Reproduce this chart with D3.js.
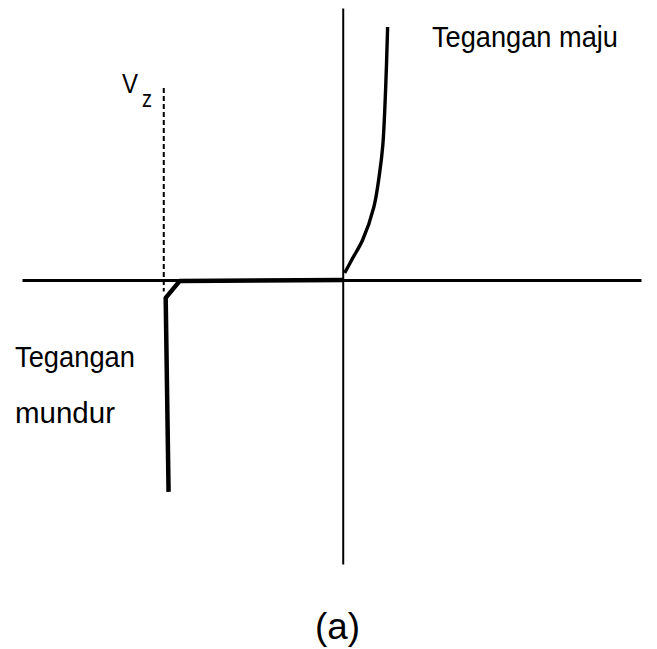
<!DOCTYPE html>
<html>
<head>
<meta charset="utf-8">
<script src="https://cdn.jsdelivr.net/npm/d3@7"></script>
<style>
  html, body { margin: 0; padding: 0; background: #fff; }
  svg { display: block; }
  text { font-family: "Liberation Sans Narrow", "Arial Narrow", "Liberation Sans", sans-serif; fill: #000; }
</style>
</head>
<body>
<svg id="chart" width="657" height="649"></svg>
<script>
// Zener diode characteristic: voltage (V) vs current (arbitrary units)
const forwardV = [0.06, 0.31, 0.62, 0.97, 1.15, 1.25, 1.34, 1.40];
const forwardI = [0.25, 0.77, 1.41, 2.57, 3.77, 4.75, 6.80, 8.91];

const reverseV = [0, -5.08, -5.52, -5.43];
const reverseI = [0, -0.03, -0.63, -7.46];

const zenerV = -5.58;
const zenerGuideI = [6.76, -0.4];

const labels = {
  forward: "Tegangan maju",
  reverse: ["Tegangan", "mundur"],
  zener: "V",
  zenerSub: "z",
  caption: "(a)"
};

const svg = d3.select("#chart");

const x = d3.scaleLinear().domain([-10, 9.3]).range([22, 641]);
const y = d3.scaleLinear().domain([-10, 9.58]).range([564, 8]);

// Axes through the origin, drawn as plain lines (no ticks)
svg.append("g")
  .attr("transform", `translate(0,${y(0)})`)
  .call(d3.axisBottom(x).ticks(0).tickSizeOuter(0))
  .call(g => g.select(".domain").attr("stroke", "#000").attr("stroke-width", 3));

svg.append("g")
  .attr("transform", `translate(${x(0)},0)`)
  .call(d3.axisLeft(y).ticks(0).tickSizeOuter(0))
  .call(g => g.select(".domain").attr("stroke", "#000").attr("stroke-width", 2));

// Zener breakdown voltage guide
svg.append("line")
  .attr("x1", x(zenerV)).attr("x2", x(zenerV))
  .attr("y1", y(zenerGuideI[0])).attr("y2", y(zenerGuideI[1]))
  .attr("stroke", "#000").attr("stroke-width", 2)
  .attr("stroke-dasharray", "5,3");

// Reverse branch
const revData = reverseV.map((v, i) => [v, reverseI[i]]);
svg.append("path")
  .datum(revData)
  .attr("fill", "none").attr("stroke", "#000").attr("stroke-width", 4.5)
  .attr("stroke-linejoin", "round")
  .attr("d", d3.line().x(d => x(d[0])).y(d => y(d[1])));

// Forward branch
const fwdData = forwardV.map((v, i) => [v, forwardI[i]]);
svg.append("path")
  .datum(fwdData)
  .attr("fill", "none").attr("stroke", "#000").attr("stroke-width", 3.4)
  .attr("d", d3.line().curve(d3.curveCatmullRom).x(d => x(d[0])).y(d => y(d[1])));

// Labels (condensed to the narrow face's widths)
function label(txt, px, py, size, len) {
  const t = svg.append("text").attr("x", px).attr("y", py)
    .attr("font-size", size).text(txt);
  if (len) t.attr("textLength", len).attr("lengthAdjust", "spacingAndGlyphs");
  return t;
}

label(labels.forward, 432, 47, 30, 186);
label(labels.reverse[0], 15, 367, 30, 120);
label(labels.reverse[1], 15, 423, 30, 100);
label(labels.zener, 122, 93, 28, 16);
label(labels.zenerSub, 142, 107, 23, 10);
label(labels.caption, 315, 639, 37, 45);
</script>
</body>
</html>
